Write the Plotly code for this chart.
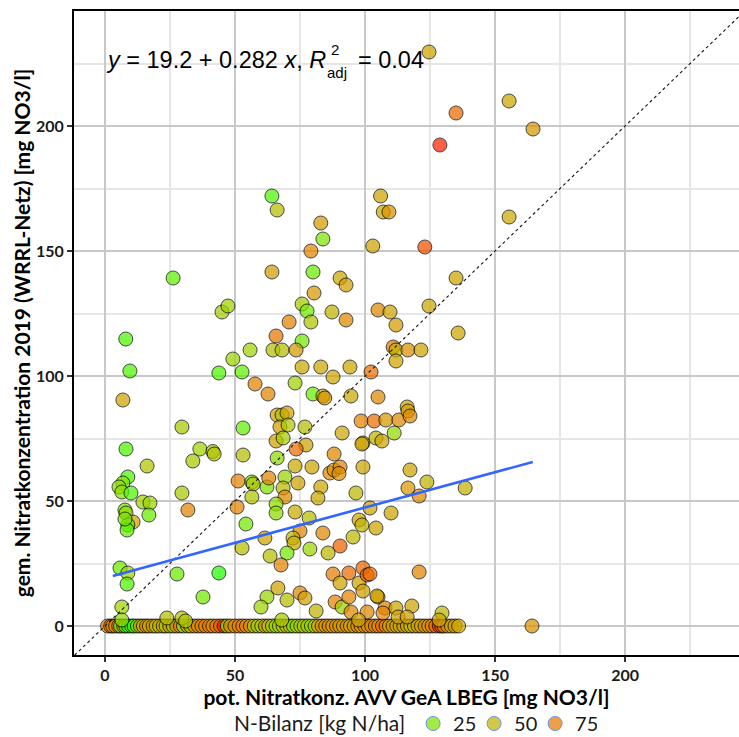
import numpy as np
import plotly.graph_objects as go

# ---------------- data ----------------
# points above the zero line: pot. Nitratkonz (x), gem. Nitratkonz (y), N-Bilanz (colour)
pot_x = [124.6, 155.4, 135.0, 164.6, 128.8, 64.2, 66.2, 106.0, 107.0, 109.2, 155.4, 83.0, 103.0, 123.0,
         83.8, 79.2, 64.2, 80.0, 26.2, 90.4, 92.7, 135.0, 80.4, 45.0, 47.3, 75.8, 77.7, 87.3, 79.2, 70.8,
         92.7, 124.6, 135.8, 105.0, 109.6, 111.9, 8.0, 65.8, 75.8, 110.8, 111.9, 116.5, 121.5, 111.9, 49.2,
         55.8, 64.6, 68.1, 73.5, 9.6, 43.8, 52.7, 75.8, 83.0, 94.2, 102.3, 57.7, 73.1, 87.7, 62.7, 80.0,
         83.8, 84.5, 94.6, 105.0, 6.9, 98.5, 103.5, 108.0, 113.0, 116.2, 116.5, 117.3, 66.2, 68.1, 70.0,
         67.3, 70.4, 76.9, 91.2, 99.2, 111.2, 104.2, 106.5, 98.8, 29.6, 53.1, 65.8, 68.5, 77.3, 73.5, 88.1,
         36.5, 41.5, 42.0, 33.8, 8.1, 53.1, 66.2, 73.1, 79.6, 86.5, 88.1, 90.4, 90.0, 99.2, 117.3, 51.2,
         56.5, 57.0, 62.3, 63.0, 69.2, 68.5, 69.2, 74.2, 83.0, 81.9, 96.5, 56.5, 29.6, 31.9, 50.8, 65.8,
         65.8, 73.1, 78.5, 54.2, 75.0, 83.8, 72.3, 72.7, 61.5, 95.4, 90.4, 52.7, 78.8, 85.8, 63.5, 70.0,
         67.7, 27.7, 43.8, 87.7, 93.8, 90.4, 97.7, 99.2, 100.8, 99.2, 66.5, 37.7, 62.3, 60.0, 70.0, 75.0,
         76.9, 81.2, 88.5, 91.2, 93.8, 94.6, 100.8, 29.6, 101.9, 116.5, 123.8, 120.8, 138.5, 110.0, 104.2,
         97.7, 98.8, 101.9, 120.8, 105.0, 104.6, 107.7, 106.9, 111.9, 118.0, 129.6, 112.7, 116.2, 164.2,
         16.2, 8.8, 6.9, 5.4, 6.5, 10.0, 14.6, 17.3, 16.9, 7.7, 8.1, 10.8, 8.8, 8.5, 7.7, 5.8, 8.8, 8.5,
         6.5, 6.5, 23.8, 31.0, 68.0, 97.5, 128.5]
gem_y = [229.6, 210.0, 205.2, 198.8, 192.4, 172.0, 166.4, 172.0, 165.6, 165.6, 163.6, 161.2, 152.0, 151.6,
         154.8, 150.0, 141.6, 141.6, 139.2, 139.2, 136.4, 139.2, 133.2, 125.6, 128.0, 128.8, 126.0, 125.6,
         121.6, 121.6, 122.4, 128.0, 117.2, 126.4, 125.6, 120.4, 114.8, 116.0, 114.0, 111.6, 110.4, 110.4,
         110.4, 106.0, 106.8, 110.4, 110.4, 110.4, 110.4, 102.0, 101.2, 101.6, 103.6, 103.6, 103.6, 101.6,
         96.8, 97.2, 99.6, 92.8, 92.8, 92.0, 91.2, 92.0, 91.6, 90.4, 82.0, 82.0, 82.4, 82.4, 87.6, 86.0,
         84.0, 84.4, 84.4, 85.2, 79.6, 80.4, 79.6, 77.2, 73.2, 77.2, 75.2, 74.0, 72.8, 79.6, 79.2, 74.0,
         75.2, 72.4, 70.8, 68.8, 70.8, 69.8, 68.8, 66.0, 70.8, 68.4, 67.2, 64.0, 63.6, 61.2, 62.4, 63.6,
         61.0, 63.6, 62.4, 58.0, 57.6, 56.8, 55.6, 59.2, 59.6, 55.2, 51.6, 57.2, 55.6, 51.2, 53.2, 51.6,
         53.2, 46.4, 47.6, 48.8, 45.2, 45.6, 43.2, 40.8, 38.0, 37.2, 35.2, 33.2, 35.2, 35.6, 32.0, 31.2,
         30.8, 29.2, 28.0, 29.2, 24.4, 20.8, 21.2, 20.8, 21.2, 17.2, 17.2, 23.2, 20.4, 14.0, 15.2, 11.6,
         11.6, 7.6, 10.4, 13.2, 11.2, 6.0, 9.6, 7.6, 11.6, 5.6, 5.6, 3.2, 47.2, 55.2, 57.6, 52.0, 55.2,
         45.2, 39.2, 42.4, 40.4, 20.8, 21.6, 11.6, 12.0, 7.2, 5.2, 7.2, 8.0, 5.2, 3.6, 3.6, 0.0,
         64.0, 59.6, 57.2, 55.6, 53.6, 53.2, 49.6, 49.2, 44.4, 46.4, 45.2, 41.6, 40.4, 38.4, 42.8, 23.2,
         21.2, 16.8, 7.6, 2.4, 3.2, 2.0, 2.4, 2.4, 2.4]
n_bilanz = [58, 57, 82, 65, 97, 15, 45, 58, 57, 66, 56, 62, 58, 90,
            25, 72, 62, 20, 18, 57, 62, 58, 64, 38, 36, 38, 22, 50, 42, 72,
            70, 57, 57, 70, 58, 63, 15, 78, 22, 78, 50, 68, 58, 58, 33,
            35, 45, 45, 63, 15, 15, 18, 55, 57, 57, 80, 72, 35, 57, 72, 20,
            55, 66, 57, 70, 58, 72, 80, 64, 70, 58, 60, 70, 60, 40, 60,
            60, 42, 45, 57, 57, 32, 50, 58, 58, 40, 18, 60, 38, 58, 80, 70,
            35, 40, 42, 40, 15, 45, 30, 55, 58, 70, 65, 72, 68, 58, 58, 72,
            25, 42, 25, 72, 33, 48, 70, 58, 57, 57, 48, 42, 40, 72, 72, 30,
            30, 55, 45, 22, 70, 70, 48, 55, 58, 48, 85, 45, 33, 48, 45, 22,
            72, 20, 12, 75, 82, 58, 58, 82, 85, 60, 58, 22, 33, 35, 45, 70,
            60, 50, 72, 35, 72, 70, 70, 45, 58, 64, 50, 70, 52, 58, 58,
            58, 50, 82, 72, 58, 60, 72, 72, 58, 58, 48, 58, 60, 66,
            42, 15, 25, 30, 28, 15, 35, 33, 20, 25, 30, 60, 15, 18, 25, 20,
            35, 15, 35, 30, 45, 40, 40, 60, 58]

# points lying on the zero line (gem. Nitratkonz = 0)
zero_x = [1.0, 2.2, 3.0, 4.1, 5.3, 6.0, 7.2, 8.0, 9.1, 10.3, 11.2, 12.5, 13.6, 14.8, 16.0, 17.1, 18.5,
          19.7, 21.0, 22.4, 23.5, 24.9, 26.3, 27.6, 29.0, 30.2, 31.8, 33.0, 34.5, 35.9, 37.3, 38.7, 40.2,
          41.5, 43.0, 44.4, 45.8, 47.0, 48.3, 50.0, 51.6, 53.0, 54.4, 55.9, 57.4, 58.8, 60.3, 61.7, 63.0,
          64.4, 65.8, 67.1, 68.5, 69.9, 71.2, 72.5, 73.9, 75.3, 76.6, 78.0, 79.4, 80.8, 82.1, 83.5, 84.9,
          86.2, 87.6, 89.0, 90.3, 91.7, 93.1, 94.4, 95.8, 97.2, 98.5, 99.9, 101.2, 102.6, 104.0, 105.3,
          106.7, 108.1, 109.4, 110.8, 112.2, 113.5, 114.9, 116.3, 117.6, 119.0, 120.4, 121.7, 123.1, 124.5,
          125.8, 127.2, 128.6, 129.5, 130.4, 131.8, 133.2, 134.6, 136.0]
zero_n = [72, 75, 70, 72, 68, 20, 72, 15, 12, 18, 12, 25, 70, 45, 72, 55, 70,
          42, 55, 58, 35, 70, 25, 72, 75, 22, 72, 35, 72, 70, 72, 75, 72,
          70, 75, 85, 98, 18, 72, 70, 72, 75, 72, 70, 35, 45, 33, 72, 38,
          45, 28, 35, 45, 38, 48, 20, 35, 45, 33, 45, 22, 48, 55, 70, 62,
          72, 58, 70, 64, 58, 72, 55, 62, 72, 58, 70, 62, 72, 75, 64,
          85, 72, 58, 62, 58, 55, 64, 58, 48, 56, 62, 58, 70, 64,
          72, 85, 95, 88, 75, 62, 58, 62, 58]

# regression (from the equation label) and its x extent
fit_intercept, fit_slope = 19.2, 0.282
fit_x = [3.0, 164.5]

x_ticks = [0, 50, 100, 150, 200]
y_ticks = [0, 50, 100, 150, 200]
legend_breaks = [25, 50, 75]

# ---------------- colour scale (green -> red, interpolated in CIELAB) ----------------
def _srgb_to_lab(rgb):
    c = np.array(rgb, float) / 255.0
    c = np.where(c > 0.04045, ((c + 0.055) / 1.055) ** 2.4, c / 12.92)
    M = np.array([[0.4124, 0.3576, 0.1805], [0.2126, 0.7152, 0.0722], [0.0193, 0.1192, 0.9505]])
    xyz = M @ c / np.array([0.95047, 1.0, 1.08883])
    f = np.where(xyz > 0.008856, np.cbrt(xyz), 7.787 * xyz + 16 / 116)
    return np.array([116 * f[1] - 16, 500 * (f[0] - f[1]), 200 * (f[1] - f[2])])

def _lab_to_srgb(lab):
    L, a, b = lab
    fy = (L + 16) / 116
    fx = fy + a / 500
    fz = fy - b / 200
    f = np.array([fx, fy, fz])
    xyz = np.where(f ** 3 > 0.008856, f ** 3, (f - 16 / 116) / 7.787) * np.array([0.95047, 1.0, 1.08883])
    Minv = np.array([[3.2406, -1.5372, -0.4986], [-0.9689, 1.8758, 0.0415], [0.0557, -0.2040, 1.0570]])
    c = Minv @ xyz
    c = np.clip(c, 0, 1)
    c = np.where(c > 0.0031308, 1.055 * c ** (1 / 2.4) - 0.055, 12.92 * c)
    return tuple(int(round(v * 255)) for v in np.clip(c, 0, 1))

LOW, HIGH = _srgb_to_lab((0, 255, 0)), _srgb_to_lab((255, 0, 0))
CMIN, CMAX = 10, 100

def col_at(t):
    r, g, b = _lab_to_srgb(LOW + (HIGH - LOW) * t)
    return f"rgb({r},{g},{b})"

colorscale = [[t, col_at(t)] for t in np.linspace(0, 1, 21)]

# ---------------- figure ----------------
all_x = zero_x + pot_x
all_y = [0.0] * len(zero_x) + gem_y
all_c = zero_n + n_bilanz

fig = go.Figure()

fig.add_trace(go.Scatter(
    x=all_x, y=all_y, mode="markers", showlegend=False, hoverinfo="skip",
    marker=dict(size=14, color=all_c, colorscale=colorscale, cmin=CMIN, cmax=CMAX,
                showscale=False, opacity=0.72, line=dict(color="black", width=1)),
))

# 1:1 reference line
fig.add_trace(go.Scatter(
    x=[-30, 300], y=[-30, 300], mode="lines", showlegend=False, hoverinfo="skip",
    line=dict(color="#111111", width=1.1, dash="3px,3px"),
))

# regression line
fit_y = [fit_intercept + fit_slope * v for v in fit_x]
fig.add_trace(go.Scatter(
    x=fit_x, y=fit_y, mode="lines", showlegend=False, hoverinfo="skip",
    line=dict(color="#3366FF", width=2.6),
))

# legend keys
for v in legend_breaks:
    fig.add_trace(go.Scatter(
        x=[None], y=[None], mode="markers", name=str(v),
        marker=dict(size=14, color=col_at((v - CMIN) / (CMAX - CMIN)), opacity=0.72,
                    line=dict(color="#3366FF", width=1)),
    ))

axis_common = dict(
    showgrid=True, gridcolor="#c8c8c8", gridwidth=2,
    minor=dict(dtick=25, showgrid=True, gridcolor="#e6e6e6", gridwidth=1.6),
    zeroline=False, showline=True, linecolor="black", linewidth=2, mirror=True,
    ticks="outside", ticklen=5, tickwidth=1.5, tickcolor="#333333",
    tickfont=dict(family="Lato", size=16, color="#1a1a1a", weight="bold"),
    automargin=False,
)

# the figure is slightly taller than the window so the legend sits near the bottom edge
FIG_H = 743
BOTTOM = FIG_H - 655

fig.update_layout(
    width=739, height=FIG_H,
    margin=dict(l=74, r=0, t=11, b=BOTTOM),
    paper_bgcolor="white", plot_bgcolor="white",
    xaxis=dict(range=[-11.9, 243.8], tickvals=x_ticks, **axis_common,
               title=dict(text="<b>pot. Nitratkonz. AVV GeA LBEG [mg NO3/l]</b>",
                          font=dict(family="Lato", size=21, color="black"), standoff=3)),
    yaxis=dict(range=[-11.6, 246], tickvals=y_ticks, **axis_common,
               title=dict(text="<b>gem. Nitratkonzentration 2019 (WRRL-Netz) [mg NO3/l]</b>",
                          font=dict(family="Lato", size=21, color="black"), standoff=0)),
    legend=dict(orientation="h", x=0.2376, xanchor="left", y=-BOTTOM / 644, yanchor="bottom",
                title=dict(text="N-Bilanz [kg N/ha]", side="left",
                           font=dict(family="Lato", size=21, color="#1a1a1a")),
                font=dict(family="Lato", size=20, color="#1a1a1a"),
                itemwidth=30, entrywidth=16, entrywidthmode="pixels",
                bgcolor="rgba(0,0,0,0)"),
)

# equation label (y = 19.2 + 0.282 x, R^2_adj = 0.04)
eq_font = dict(family="Liberation Sans", size=23.5, color="black")
fig.add_annotation(xref="paper", yref="paper", x=0, y=1, xanchor="left", yanchor="middle",
                   xshift=104 - 74, yshift=-(60 - 11), showarrow=False,
                   text="<i>y</i> = 19.2 + 0.282 <i>x</i>, <i>R</i>", font=eq_font)
fig.add_annotation(xref="paper", yref="paper", x=0, y=1, xanchor="left", yanchor="middle",
                   xshift=329 - 74, yshift=-(49 - 11), showarrow=False,
                   text="2", font=dict(family="Liberation Sans", size=15, color="black"))
fig.add_annotation(xref="paper", yref="paper", x=0, y=1, xanchor="left", yanchor="middle",
                   xshift=325 - 74, yshift=-(72 - 11), showarrow=False,
                   text="adj", font=dict(family="Liberation Sans", size=15, color="black"))
fig.add_annotation(xref="paper", yref="paper", x=0, y=1, xanchor="left", yanchor="middle",
                   xshift=356 - 74, yshift=-(60 - 11), showarrow=False,
                   text="= 0.04", font=eq_font)

fig.write_html("out.html", config={"displayModeBar": False},
               post_script="document.body.style.margin='0';document.body.style.overflow='hidden';")
